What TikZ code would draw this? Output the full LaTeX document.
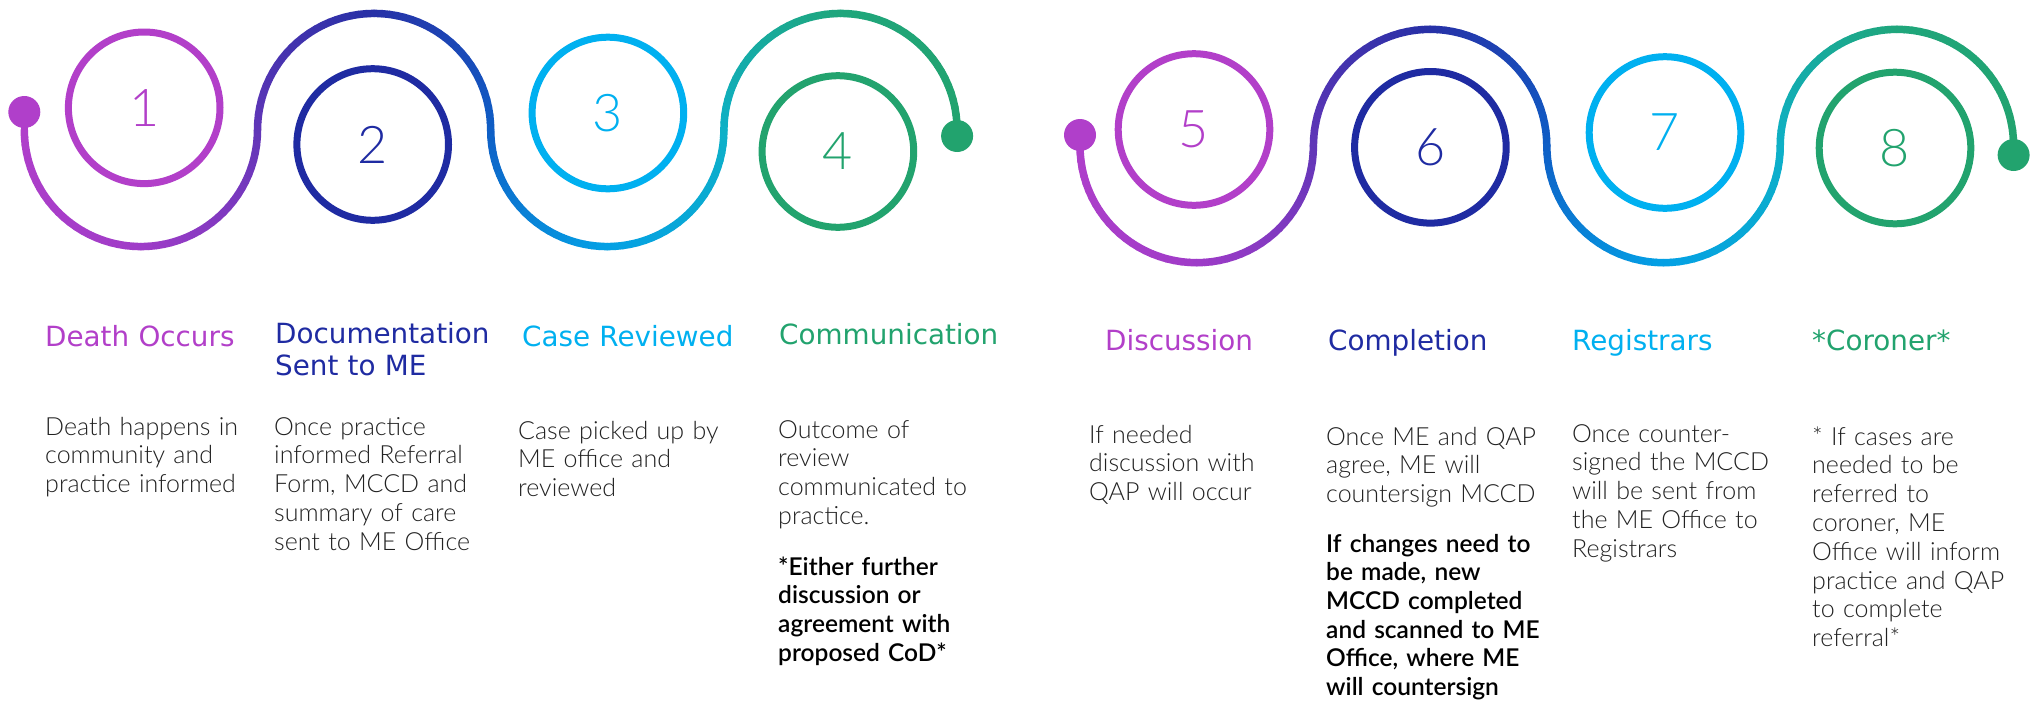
\documentclass[tikz,border=0pt]{standalone}
\usepackage{fontspec}
\setmainfont{Lato Light}
\newfontfamily\titlefont{DejaVu Sans}
\newfontfamily\bodyfont{Lato Light}
\newfontfamily\boldbodyfont{Lato Semibold}
\newfontfamily\numfont{Lato Light}

\definecolor{cpurple}{HTML}{B23FC9}
\definecolor{cnavy}{HTML}{1F2BA2}
\definecolor{ccyan}{HTML}{00B0F0}
\definecolor{cgreen}{HTML}{22A36E}
\definecolor{textgray}{HTML}{222222}
\definecolor{g0}{HTML}{B03FCA}
\definecolor{g1}{HTML}{A03CC8}
\definecolor{g2}{HTML}{6236B8}
\definecolor{g3}{HTML}{2830A6}
\definecolor{g4}{HTML}{0F5DC5}
\definecolor{g5}{HTML}{04A0E5}
\definecolor{g6}{HTML}{0DB0C8}
\definecolor{g7}{HTML}{1FA67C}
\definecolor{g8}{HTML}{22A36E}

\tikzset{
  wave/.style={line width=7.5pt, line cap=round},
  ring/.style={circle, line width=7pt, minimum size=151.6pt, inner sep=0pt,
    font=\numfont\fontsize{52}{52}\selectfont},
  enddot/.style={circle, minimum size=32pt, inner sep=0pt},
  title/.style={anchor=base west, inner sep=0pt, text width=280pt, align=left,
    font=\titlefont\fontsize{27.8}{32}\selectfont},
  body/.style={anchor=base west, inner sep=0pt, text width=300pt, align=left,
    font=\bodyfont\fontsize{25}{28.8}\selectfont, text=textgray},
  boldbody/.style={anchor=base west, inner sep=0pt, text width=300pt, align=left,
    font=\boldbodyfont\fontsize{24.5}{28.7}\selectfont, text=black}
}

% half arc with a colour gradient: cx, cy, r, start angle, end angle, colour A, colour B
\newcommand\halfarc[7]{%
  \foreach \k in {1,...,24}{%
    \pgfmathsetmacro\ta{#4+(#5-#4)*(\k-1)/24}%
    \pgfmathsetmacro\tb{#4+(#5-#4)*\k/24}%
    \pgfmathtruncatemacro\pc{100-100*(\k-0.5)/24}%
    \draw[wave, draw=#6!\pc!#7] ({#1+#3*cos(\ta)},{#2+#3*sin(\ta)}) -- ({#1+#3*cos(\tb)},{#2+#3*sin(\tb)});
  }}

% whole wave: start x, centre y, radius
\newcommand\wavegroup[3]{%
  \pgfmathsetmacro\wxA{#1+#3}%
  \pgfmathsetmacro\wxB{#1+3*#3}%
  \pgfmathsetmacro\wxC{#1+5*#3}%
  \pgfmathsetmacro\wxD{#1+7*#3}%
  \halfarc{\wxA}{#2}{#3}{180}{90}{g0}{g1}
  \halfarc{\wxA}{#2}{#3}{90}{0}{g1}{g2}
  \halfarc{\wxB}{#2}{#3}{180}{270}{g2}{g3}
  \halfarc{\wxB}{#2}{#3}{270}{360}{g3}{g4}
  \halfarc{\wxC}{#2}{#3}{180}{90}{g4}{g5}
  \halfarc{\wxC}{#2}{#3}{90}{0}{g5}{g6}
  \halfarc{\wxD}{#2}{#3}{180}{270}{g6}{g7}
  \halfarc{\wxD}{#2}{#3}{270}{360}{g7}{g8}
}

\begin{document}
\begin{tikzpicture}[x=1pt, y=-1pt]
\useasboundingbox[fill=white] (0,0) rectangle (2037,707);

% ---------- left wave ----------
\wavegroup{24.3}{130}{116.6}
\node[enddot, fill=g0] (s1) at (24.3,112) {};
\coordinate (s1e) at (24.3,130);
\draw[wave, draw=g0] (s1.center) -- (s1e);
\node[enddot, fill=g8] (e1) at (957.1,136) {};
\coordinate (e1s) at (957.1,130);
\draw[wave, draw=g8] (e1s) -- (e1.center);

\node[ring, draw=cpurple, text=cpurple] (n1) at (144.2,107.8) {1};
\node[ring, draw=cnavy, text=cnavy] (n2) at (372.7,144.5) {2};
\node[ring, draw=ccyan, text=ccyan] (n3) at (607.9,113) {3};
\node[ring, draw=cgreen, text=cgreen] (n4) at (837.9,151.5) {4};

% ---------- right wave ----------
\wavegroup{1080}{146}{116.7}
\node[enddot, fill=g0] (s2) at (1080,135) {};
\coordinate (s2e) at (1080,146);
\draw[wave, draw=g0] (s2.center) -- (s2e);
\node[enddot, fill=g8] (e2) at (2013.6,155) {};
\coordinate (e2s) at (2013.6,146);
\draw[wave, draw=g8] (e2s) -- (e2.center);

\node[ring, draw=cpurple, text=cpurple] (n5) at (1194,129.5) {5};
\node[ring, draw=cnavy, text=cnavy] (n6) at (1430.4,147.3) {6};
\node[ring, draw=ccyan, text=ccyan] (n7) at (1665,132.5) {7};
\node[ring, draw=cgreen, text=cgreen] (n8) at (1895,148) {8};

% ---------- titles ----------
\node[title, text=cpurple] (t1) at (45,346) {Death Occurs};
\node[title, text=cnavy] (t2) at (275,343) {Documentation\\Sent to ME};
\node[title, text=ccyan] (t3) at (522,346) {Case Reviewed};
\node[title, text=cgreen] (t4) at (779,344) {Communication};
\node[title, text=cpurple] (t5) at (1105,350) {Discussion};
\node[title, text=cnavy] (t6) at (1328,350) {Completion};
\node[title, text=ccyan] (t7) at (1572,350) {Registrars};
\node[title, text=cgreen] (t8) at (1812,350) {*Coroner*};

% ---------- body texts ----------
\node[body] (b1) at (45,435) {Death happens in\\community and\\practice informed};
\node[body] (b2) at (274,435) {Once practice\\informed Referral\\Form, MCCD and\\summary of care\\sent to ME Office};
\node[body] (b3) at (518,439) {Case picked up by\\ME office and\\reviewed};
\node[body] (b4) at (778,438) {Outcome of\\review\\communicated to\\practice.};
\node[boldbody] (b4b) at (778,575) {*Either further\\discussion or\\agreement with\\proposed CoD*};
\node[body] (b5) at (1089,443) {If needed\\discussion with\\QAP will occur};
\node[body] (b6) at (1326,445) {Once ME and QAP\\agree, ME will\\countersign MCCD};
\node[boldbody] (b6b) at (1326,552) {If changes need to\\be made, new\\MCCD completed\\and scanned to ME\\Office, where ME\\will countersign};
\node[body] (b7) at (1572,442) {Once counter-\\signed the MCCD\\will be sent from\\the ME Office to\\Registrars};
\node[body] (b8) at (1812,445) {* If cases are\\needed to be\\referred to\\coroner, ME\\Office will inform\\practice and QAP\\to complete\\referral*};
\end{tikzpicture}
\end{document}
